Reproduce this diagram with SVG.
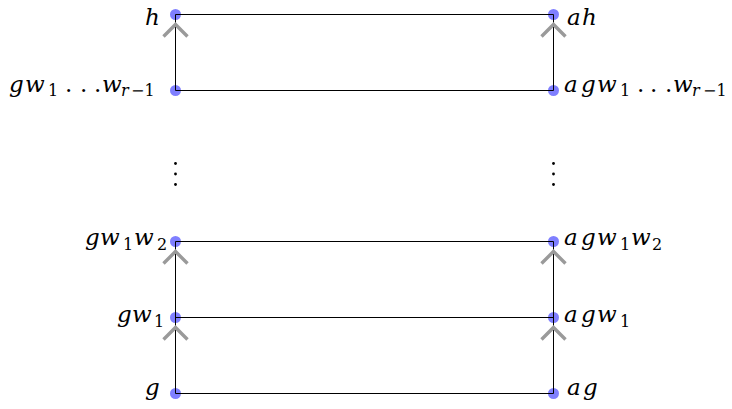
<svg xmlns="http://www.w3.org/2000/svg" width="732" height="409" viewBox="0 0 732 409">
<defs>
<style>
.node{fill:#7f7fff}
.edge{stroke:#000;stroke-width:1;fill:none}
.chev{stroke:#9a9a9a;stroke-width:3.4;fill:none}
.vd{fill:#000}
.t{font-family:"DejaVu Serif",serif;font-size:23px;font-style:italic;fill:#000}
.s{font-size:16px;font-style:normal}
.si{font-size:16px;font-style:italic}
.n{font-style:normal}
</style>
</defs>
<rect width="732" height="409" fill="#fff"/>

<g id="node-h"><circle class="node" cx="175.5" cy="14.5" r="5.5"/>
<text class="t" x="145" y="25">h</text></g>
<g id="node-ah"><circle class="node" cx="553.5" cy="14.5" r="5.5"/>
<text class="t" y="25"><tspan x="567">a</tspan><tspan x="582">h</tspan></text></g>

<g id="node-gwr"><circle class="node" cx="175.5" cy="90.5" r="5.5"/>
<text class="t" y="92"><tspan x="9">g</tspan><tspan x="25">w</tspan><tspan class="s" x="48" y="96">1</tspan><tspan class="n" x="65 80 94" y="92">...</tspan><tspan x="102">w</tspan><tspan class="si" x="121" y="96">r</tspan><tspan class="s" x="131">−1</tspan></text></g>
<g id="node-agwr"><circle class="node" cx="553.5" cy="90.5" r="5.5"/>
<text class="t" y="92"><tspan x="564">a</tspan><tspan x="581">g</tspan><tspan x="597">w</tspan><tspan class="s" x="620" y="96">1</tspan><tspan class="n" x="637 650 665" y="92">...</tspan><tspan x="673">w</tspan><tspan class="si" x="692" y="96">r</tspan><tspan class="s" x="703">−1</tspan></text></g>

<g id="node-gw1w2"><circle class="node" cx="175.5" cy="241.5" r="5.5"/>
<text class="t" y="245"><tspan x="85">g</tspan><tspan x="100">w</tspan><tspan class="s" x="123" y="250">1</tspan><tspan x="134" y="245">w</tspan><tspan class="s" x="157" y="250">2</tspan></text></g>
<g id="node-agw1w2"><circle class="node" cx="553.5" cy="241.5" r="5.5"/>
<text class="t" y="245"><tspan x="564">a</tspan><tspan x="581">g</tspan><tspan x="597">w</tspan><tspan class="s" x="620" y="250">1</tspan><tspan x="631" y="245">w</tspan><tspan class="s" x="652" y="250">2</tspan></text></g>

<g id="node-gw1"><circle class="node" cx="175.5" cy="317.5" r="5.5"/>
<text class="t" y="322"><tspan x="117">g</tspan><tspan x="132">w</tspan><tspan class="s" x="154" y="327">1</tspan></text></g>
<g id="node-agw1"><circle class="node" cx="553.5" cy="317.5" r="5.5"/>
<text class="t" y="322"><tspan x="564">a</tspan><tspan x="581">g</tspan><tspan x="597">w</tspan><tspan class="s" x="620" y="327">1</tspan></text></g>

<g id="node-g"><circle class="node" cx="175.5" cy="393.5" r="5.5"/>
<text class="t" x="145" y="395">g</text></g>
<g id="node-ag"><circle class="node" cx="553.5" cy="393.5" r="5.5"/>
<text class="t" y="395"><tspan x="567">a</tspan><tspan x="583">g</tspan></text></g>

<g id="vdots-left"><circle class="vd" cx="175.5" cy="163.5" r="1.4"/><circle class="vd" cx="175.5" cy="174" r="1.4"/><circle class="vd" cx="175.5" cy="184.5" r="1.4"/></g>
<g id="vdots-right"><circle class="vd" cx="553.5" cy="163.5" r="1.4"/><circle class="vd" cx="553.5" cy="174" r="1.4"/><circle class="vd" cx="553.5" cy="184.5" r="1.4"/></g>

<g id="connectors">
<line class="edge" x1="175.5" y1="14.5" x2="553.5" y2="14.5"/>
<line class="edge" x1="175.5" y1="90.5" x2="553.5" y2="90.5"/>
<line class="edge" x1="175.5" y1="241.5" x2="553.5" y2="241.5"/>
<line class="edge" x1="175.5" y1="317.5" x2="553.5" y2="317.5"/>
<line class="edge" x1="175.5" y1="393.5" x2="553.5" y2="393.5"/>
<line class="edge" x1="175.5" y1="90.5" x2="175.5" y2="14.5"/>
<line class="edge" x1="553.5" y1="90.5" x2="553.5" y2="14.5"/>
<line class="edge" x1="175.5" y1="393.5" x2="175.5" y2="241.5"/>
<line class="edge" x1="553.5" y1="393.5" x2="553.5" y2="241.5"/>
<polyline class="chev" points="163.5,36.5 175.5,24.5 187.5,36.5"/>
<polyline class="chev" points="541.5,36.5 553.5,24.5 565.5,36.5"/>
<polyline class="chev" points="163.5,263.5 175.5,251.5 187.5,263.5"/>
<polyline class="chev" points="541.5,263.5 553.5,251.5 565.5,263.5"/>
<polyline class="chev" points="163.5,339.5 175.5,327.5 187.5,339.5"/>
<polyline class="chev" points="541.5,339.5 553.5,327.5 565.5,339.5"/>
</g>
</svg>
